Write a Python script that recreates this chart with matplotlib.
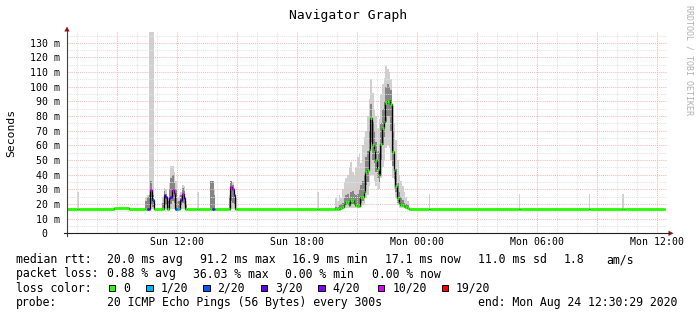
import matplotlib
matplotlib.use("Agg")
import matplotlib.pyplot as plt
from matplotlib.patches import Rectangle, Polygon
from matplotlib.lines import Line2D

# ---------------- data ----------------
title = "Navigator Graph"
y_label = "Seconds"
side_text = "RRDTOOL / TOBI OETIKER"
y_ticks = [0, 10, 20, 30, 40, 50, 60, 70, 80, 90, 100, 110, 120, 130]
y_tick_labels = ["0  ", "10 m", "20 m", "30 m", "40 m", "50 m", "60 m", "70 m",
                 "80 m", "90 m", "100 m", "110 m", "120 m", "130 m"]
x_tick_times = ["Sun 12:00", "Sun 18:00", "Mon 00:00", "Mon 06:00", "Mon 12:00"]
x_tick_labels = ["Sun 12:00", "Sun 18:00", "Mon 00:00", "Mon 06:00", "Mon 12:00"]
view_start = "Sun 06:30:29"
view_end = "Mon 12:30:29"
data_end = "Mon 12:25"

step_start = [
    "Sun 06:30", "Sun 07:00", "Sun 07:05", "Sun 08:50", "Sun 09:35",
    "Sun 10:25", "Sun 10:30", "Sun 10:35", "Sun 10:40", "Sun 10:45", "Sun 10:50",
    "Sun 11:15", "Sun 11:20", "Sun 11:25", "Sun 11:30", "Sun 11:35", "Sun 11:40", "Sun 11:45", "Sun 11:50", "Sun 11:55",
    "Sun 12:00", "Sun 12:05", "Sun 12:10", "Sun 12:15", "Sun 12:20", "Sun 12:25", "Sun 12:30",
    "Sun 13:00", "Sun 13:05",
    "Sun 13:40", "Sun 13:45", "Sun 13:50", "Sun 13:55",
    "Sun 14:35", "Sun 14:40", "Sun 14:45", "Sun 14:50", "Sun 14:55", "Sun 15:00",
    "Sun 19:00", "Sun 19:05",
    "Sun 19:55", "Sun 20:00", "Sun 20:05", "Sun 20:10", "Sun 20:15", "Sun 20:20", "Sun 20:25", "Sun 20:30",
    "Sun 20:35", "Sun 20:40", "Sun 20:45", "Sun 20:50", "Sun 20:55", "Sun 21:00", "Sun 21:05", "Sun 21:10",
    "Sun 21:15", "Sun 21:20", "Sun 21:25", "Sun 21:30", "Sun 21:35", "Sun 21:40", "Sun 21:45", "Sun 21:50",
    "Sun 21:55", "Sun 22:00", "Sun 22:05", "Sun 22:10", "Sun 22:15", "Sun 22:20", "Sun 22:25", "Sun 22:30",
    "Sun 22:35", "Sun 22:40", "Sun 22:45", "Sun 22:50", "Sun 22:55", "Sun 23:00", "Sun 23:05", "Sun 23:10",
    "Sun 23:15", "Sun 23:20", "Sun 23:25", "Sun 23:30",
    "Sun 23:35",
    "Mon 00:35", "Mon 00:40", "Mon 05:05", "Mon 05:10", "Mon 08:35", "Mon 08:40", "Mon 10:15", "Mon 10:20",
]

median_ms = [
    16.7, 16.7, 16.7, 17.0, 16.8,
    16.8, 16.8, 16.8, 29.5, 22.5, 16.8,
    16.8, 26, 24.5, 16.8, 24, 25, 29.5, 27.5, 16.8,
    16.8, 16.8, 23, 27, 24, 16.8, 16.8,
    16.8, 16.8,
    16.8, 16.8, 16.8, 16.8,
    16.8, 31.5, 30, 26, 16.8, 16.8,
    16.8, 16.8,
    16.8, 16.8, 16.8, 17.5, 18, 20, 21.6, 21.6,
    19.3, 22.7, 22.7, 20.5, 19, 18.6, 18.6, 25,
    25, 28.4, 42, 43, 57, 78.5, 60, 57,
    50, 44, 40, 61, 71.7, 76, 89, 90.5,
    91.2, 88, 55.7, 43, 32, 24, 20.5, 19.5,
    19.3, 18.5, 18.2, 17.5,
    16.8,
    16.8, 16.8, 16.8, 16.8, 16.8, 16.8, 16.8, 16.8,
]

loss_count = [
    0, 0, 0, 0, 0,
    0, 3, 3, 10, 2, 0,
    0, 3, 3, 0, 3, 3, 10, 10, 2,
    1, 0, 3, 10, 3, 0, 0,
    0, 0,
    0, 3, 2, 0,
    0, 10, 10, 4, 0, 0,
    0, 0,
    0, 0, 0, 0, 0, 0, 0, 0,
    0, 0, 0, 0, 0, 0, 0, 0,
    0, 0, 0, 0, 0, 0, 0, 0,
    0, 0, 0, 0, 0, 0, 0, 0,
    0, 0, 0, 0, 0, 0, 0, 0,
    0, 0, 0, 0,
    0,
    0, 0, 0, 0, 0, 0, 0, 0,
]

ping_lo = [
    16.7, 16.7, 16.7, 17.0, 16.8,
    16.8, 16.8, 16.8, 16.8, 16.8, 16.8,
    16.8, 16.8, 16.8, 16.8, 16.8, 16.8, 16.8, 16.8, 16.8,
    16.8, 16.8, 16.8, 16.8, 16.8, 16.8, 16.8,
    16.8, 16.8,
    16.8, 16.8, 16.8, 16.8,
    16.8, 16.8, 16.8, 16.8, 16.8, 16.8,
    16.8, 16.8,
    16.5, 16.5, 16.5, 16.5, 16.5, 17, 17, 17,
    17, 17.5, 17.5, 17, 17, 17, 17, 18,
    19, 20, 24, 26, 32, 40, 40, 36,
    32, 30, 30, 38, 45, 50, 58, 60,
    58, 50, 38, 30, 24, 19, 17.5, 17,
    17, 17, 16.8, 16.8,
    16.8,
    16.8, 16.8, 16.8, 16.8, 16.8, 16.8, 16.8, 16.8,
]

ping_q1 = [
    16.7, 16.7, 16.7, 17.0, 16.8,
    16.8, 16.8, 16.8, 20, 18, 16.8,
    16.8, 20, 19, 16.8, 19, 20, 22, 21, 16.8,
    16.8, 16.8, 19, 21, 19, 16.8, 16.8,
    16.8, 16.8,
    16.8, 16.8, 16.8, 16.8,
    16.8, 22, 21, 19, 16.8, 16.8,
    16.8, 16.8,
    16.8, 16.8, 16.8, 17, 17, 18.5, 19, 19,
    18, 20, 20, 19, 18, 18, 18, 21,
    22, 24, 33, 35, 46, 62, 50, 48,
    42, 38, 35, 50, 60, 66, 76, 80,
    80, 70, 46, 37, 28, 21, 19, 18.5,
    18, 17.5, 17.2, 17,
    16.8,
    16.8, 16.8, 16.8, 16.8, 16.8, 16.8, 16.8, 16.8,
]

ping_q3 = [
    16.7, 16.7, 16.7, 17.0, 16.8,
    22, 25, 26, 36, 26, 16.8,
    21, 29, 27, 22, 30, 38, 40, 34, 30,
    22, 22, 26, 31, 29, 20, 16.8,
    16.8, 16.8,
    36, 36, 26, 16.8,
    24, 36, 33, 28, 16.8, 16.8,
    16.8, 16.8,
    18, 18, 19, 20, 21, 24, 26, 27,
    25, 28, 29, 27, 26, 27, 30, 33,
    36, 40, 52, 56, 70, 88, 76, 70,
    62, 56, 55, 75, 85, 90, 100, 102,
    100, 98, 70, 56, 44, 34, 28, 25,
    23, 21, 20, 19,
    16.8,
    16.8, 16.8, 16.8, 16.8, 16.8, 16.8, 16.8, 16.8,
]

ping_hi = [
    16.7, 28, 16.7, 17.0, 16.8,
    25, 26, 140, 140, 140, 16.8,
    25, 31, 30, 25, 34, 46, 46, 42, 36,
    24, 26, 28, 33, 32, 22, 16.8,
    28, 16.8,
    36, 36, 30, 16.8,
    26, 36, 35, 30, 24, 16.8,
    28, 16.8,
    24, 22, 26, 24, 30, 35, 38, 40,
    45, 49, 42, 40, 45, 52, 55, 48,
    60, 66, 70, 80, 92, 105, 96, 85,
    80, 72, 78, 95, 102, 106, 114, 112,
    110, 105, 87, 75, 64, 50, 40, 36,
    32, 28, 25, 22,
    16.8,
    27, 16.8, 27, 16.8, 27, 16.8, 27, 16.8,
]

loss_levels = [0, 1, 2, 3, 4, 10, 19]
loss_level_labels = ["0", "1/20", "2/20", "3/20", "4/20", "10/20", "19/20"]
loss_level_colors = ["#26ff00", "#00b8ff", "#0059ff", "#5e00ff", "#7e00ff", "#dd00ff", "#ff0000"]

stats_rtt = ["median rtt:", "20.0 ms avg", "91.2 ms max", "16.9 ms min",
             "17.1 ms now", "11.0 ms sd", "1.8", "am/s"]
stats_loss = ["packet loss:", "0.88 % avg", "36.03 % max", "0.00 % min", "0.00 % now"]
loss_color_title = "loss color:"
probe_line = ["probe:", "20 ICMP Echo Pings (56 Bytes) every 300s",
              "end: Mon Aug 24 12:30:29 2020"]

# ---------------- helpers ----------------
def hours(stamp):
    day, clock = stamp.split()
    parts = [int(p) for p in clock.split(":")]
    h = parts[0] + parts[1] / 60.0 + (parts[2] / 3600.0 if len(parts) > 2 else 0)
    return h + (24 if day == "Mon" else 0)

n = len(step_start)
for arr in (median_ms, loss_count, ping_lo, ping_q1, ping_q3, ping_hi):
    assert len(arr) == n, (len(arr), n)

edges = [hours(s) for s in step_start] + [hours(data_end)]
color_of = dict(zip(loss_levels, loss_level_colors))

W, H = 697, 315
fig = plt.figure(figsize=(W / 100, H / 100), dpi=100)
fig.patch.set_facecolor("white")

def fx(px):
    return px / W

def fy(py):
    return 1 - py / H

MONO = "DejaVu Sans Mono"
AX_L, AX_R, AX_T, AX_B = 67, 667, 32, 233.3
ax = fig.add_axes([fx(AX_L), fy(AX_B), (AX_R - AX_L) / W, (AX_B - AX_T) / H])
ax.set_facecolor("white")
x0, x1 = hours(view_start), hours(view_end)
ymax = 137.4
ax.set_xlim(x0, x1)
ax.set_ylim(0, ymax)
for s in ax.spines.values():
    s.set_visible(False)

# smoke
ax.stairs(ping_hi, edges, baseline=ping_lo, fill=True, color="#d0d0d0", lw=0, zorder=1)
ax.stairs(ping_q3, edges, baseline=ping_q1, fill=True, color="#858585", lw=0, zorder=2)

# grid (drawn over smoke)
minor_col, major_col = "#e3e3e3", "#eebcbc"
dots = (0, (1, 1))
h = int(x0) + 1
while h < x1:
    col = major_col if h % 3 == 0 else minor_col
    ax.axvline(h, color=col, lw=0.75, ls=dots, zorder=3)
    h += 1
v = 5
while v < ymax:
    col = major_col if v % 10 == 0 else minor_col
    ax.axhline(v, color=col, lw=0.75, ls=dots, zorder=3)
    v += 5

# median line + loss colour
ax.stairs(median_ms, edges, baseline=None, color="black", lw=0.9, zorder=4)
ax.hlines(median_ms, edges[:-1], edges[1:], colors=[color_of[l] for l in loss_count],
          lw=2.0, zorder=5, capstyle="butt")

# ticks
ax.set_yticks(y_ticks)
ax.set_yticklabels(y_tick_labels, fontfamily=MONO, fontsize=7.1)
ax.set_xticks([hours(t) for t in x_tick_times])
ax.set_xticklabels(x_tick_labels, fontfamily=MONO, fontsize=7.1)
ax.tick_params(axis="y", length=0, pad=5.2)
ax.tick_params(axis="x", length=0, pad=2.5)

# axes lines and arrows
fig.add_artist(Line2D([fx(67), fx(67)], [fy(236), fy(31)], color="#404040", lw=0.8))
fig.add_artist(Line2D([fx(64), fx(669)], [fy(AX_B), fy(AX_B)], color="#202020", lw=0.8))
fig.add_artist(Polygon([(fx(64.3), fy(31.5)), (fx(69.7), fy(31.5)), (fx(67), fy(26.5))],
                       closed=True, color="#8b1a1a", lw=0))
fig.add_artist(Polygon([(fx(668.5), fy(AX_B - 2.7)), (fx(668.5), fy(AX_B + 2.7)),
                        (fx(673.5), fy(AX_B))], closed=True, color="#8b1a1a", lw=0))

# title and labels
fig.text(fx(348), fy(18.5), title, fontfamily=MONO, fontsize=9.4, ha="center", va="baseline")
fig.text(fx(11), fy(132.5), y_label, fontfamily=MONO, fontsize=8.2, rotation=90,
         ha="center", va="center")
fig.text(fx(688.5), fy(60), side_text, fontfamily=MONO, fontsize=6.0, rotation=270,
         ha="center", va="center", color="#b0b0b0")

# legend / statistics
FS = 8.3
base = [263.3, 277.5, 291.7, 305.9]
rtt_x = [16.7, 107.3, 200.7, 292.7, 386, 478.3, 564, 606.7]
for t, xp in zip(stats_rtt, rtt_x):
    fig.text(fx(xp - 0.7), fy(base[0]), t, fontfamily=MONO, fontsize=FS, va="baseline")
loss_x = [16.7, 107.3, 193.3, 286, 372.7]
for t, xp in zip(stats_loss, loss_x):
    fig.text(fx(xp - 0.7), fy(base[1]), t, fontfamily=MONO, fontsize=FS, va="baseline")
fig.text(fx(16.0), fy(base[2]), loss_color_title, fontfamily=MONO, fontsize=FS, va="baseline")
box_x = [109, 146.3, 203.3, 260.7, 318.3, 378.3, 441.7]
for lab, col, bx in zip(loss_level_labels, loss_level_colors, box_x):
    fig.add_artist(Rectangle((fx(bx), fy(290.8)), 6.2 / W, 6.3 / H, facecolor=col,
                             edgecolor="black", lw=0.7))
    fig.text(fx(bx + 14.2), fy(base[2]), lab, fontfamily=MONO, fontsize=FS, va="baseline")
probe_x = [16.7, 107.3, 478.3]
for t, xp in zip(probe_line, probe_x):
    fig.text(fx(xp - 0.7), fy(base[3]), t, fontfamily=MONO, fontsize=FS, va="baseline")

fig.savefig("out.png", dpi=100, facecolor="white")
